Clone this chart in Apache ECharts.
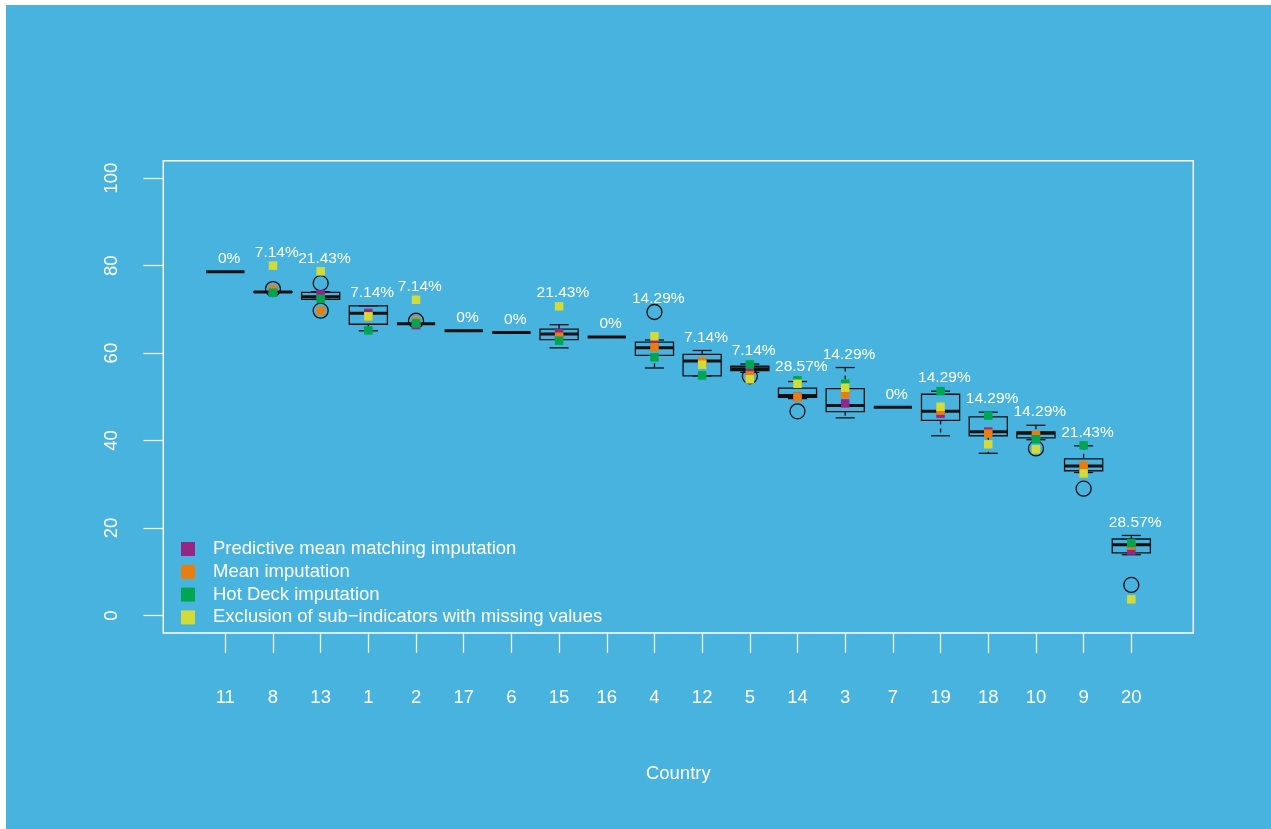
<!DOCTYPE html>
<html>
<head>
<meta charset="utf-8">
<title>Country scores by imputation method</title>
<script src="https://cdn.jsdelivr.net/npm/echarts@6/dist/echarts.min.js"></script>
<style>
  html, body { margin: 0; padding: 0; background: #ffffff; }
  #chart { position: absolute; left: 6px; top: 5px; width: 1265px; height: 824px; background: #48b3de; }
</style>
</head>
<body>
<div id="chart"></div>
<script>
// Countries in plotting order (sorted by score)
const countries = ['11', '8', '13', '1', '2', '17', '6', '15', '16', '4', '12', '5', '14', '3', '7', '19', '18', '10', '9', '20'];
// Share of sub-indicators with missing values, per country
const missingShare = ['0%', '7.14%', '21.43%', '7.14%', '7.14%', '0%', '0%', '21.43%', '0%', '14.29%',
  '7.14%', '7.14%', '28.57%', '14.29%', '0%', '14.29%', '14.29%', '14.29%', '21.43%', '28.57%'];

// Box-and-whisker statistics per country
const boxLow    = [78.6, 73.9, 72.3,  65.1, 66.7, 65.1, 64.7, 61.2,  63.7, 56.6, 54.8, 55.6, 49.6, 45.2, 47.6, 41.1, 37.1, 40.2,  32.7, 13.9];
const boxQ1     = [78.6, 73.9, 72.3,  66.6, 66.7, 65.1, 64.7, 63.1,  63.7, 59.5, 54.8, 56.0, 49.9, 46.6, 47.6, 44.6, 41.1, 40.6,  33.1, 14.3];
const boxMedian = [78.6, 74.0, 72.9,  69.1, 66.7, 65.1, 64.7, 64.35, 63.7, 61.2, 58.2, 56.4, 50.3, 48.0, 47.6, 46.7, 42.0, 41.65, 34.2, 16.2];
const boxQ3     = [78.6, 74.0, 73.9,  70.8, 66.7, 65.1, 64.7, 65.5,  63.7, 62.5, 59.7, 57.0, 52.0, 51.9, 47.6, 50.6, 45.4, 42.0,  35.8, 17.5];
const boxHigh   = [78.6, 74.0, 74.05, 70.8, 66.7, 65.1, 64.7, 66.5,  63.7, 63.0, 60.6, 57.5, 53.5, 56.7, 47.6, 51.3, 46.5, 43.5,  38.8, 18.3];
// Outlying values beyond the whiskers
const outliers = [[], [74.65], [76.0, 69.7], [], [67.4], [], [], [], [], [69.4],
  [], [54.7], [46.7], [], [], [], [], [38.2], [29.0], [7.0]];

// Country scores under each treatment of missing data
const pmmImputation  = [null, 74.2, 73.45, 69.2, 66.4, null, null, 64.6,  null, 62.6,  57.8,  55.9, 50.0, 48.5, null, 46.15, 42.05, 41.0, 33.4,  14.85];
const meanImputation = [null, 74.6, 69.7,  68.4, 67.3, null, null, 63.75, null, 61.35, 58.1,  54.9, 50.0, 50.7, null, 46.85, 41.6,  41.3, 34.35, 16.0];
const hotDeck        = [null, 73.8, 72.4,  65.2, 66.8, null, null, 62.85, null, 59.05, 54.9,  57.4, 53.8, 53.0, null, 51.3,  45.7,  40.3, 38.9,  16.55];
const exclusion      = [null, 80.0, 78.7,  68.4, 72.2, null, null, 70.7,  null, 63.85, 57.35, 54.0, 53.0, 52.1, null, 47.75, 39.15, 38.0, 32.5,  3.7];

const yTicks = [0, 20, 40, 60, 80, 100];

const methods = [
  { name: 'Predictive mean matching imputation', values: pmmImputation, color: '#962684' },
  { name: 'Mean imputation', values: meanImputation, color: '#e97e0e' },
  { name: 'Hot Deck imputation', values: hotDeck, color: '#00a651' },
  { name: 'Exclusion of sub\u2212indicators with missing values', values: exclusion, color: '#d3db39' }
];

const FONT = '"Liberation Sans", Arial, Helvetica, sans-serif';
const INK = '#111111';
const BOX_WIDTH = 0.8;      // in category units
const LABEL_LIFT = 3.0;     // percentage label sits this far above the highest mark
const LABEL_SHIFT = 0.08;   // small horizontal nudge of the percentage label

const positions = countries.map((_, i) => i + 1);

const boxData = positions.map((x, i) => [x, boxLow[i], boxQ1[i], boxMedian[i], boxQ3[i], boxHigh[i]]);

const outlierData = [];
outliers.forEach((list, i) => list.forEach(v => outlierData.push([positions[i], v])));

// Percentage labels go above the highest value drawn for each country
const labelData = positions.map((x, i) => {
  const all = [boxHigh[i], ...outliers[i]];
  methods.forEach(m => { if (m.values[i] != null) all.push(m.values[i]); });
  return [x + LABEL_SHIFT, Math.max(...all) + LABEL_LIFT];
});

function renderBox(params, api) {
  const x = api.value(0);
  const lo = api.value(1), q1 = api.value(2), md = api.value(3), q3 = api.value(4), hi = api.value(5);
  const half = api.size([BOX_WIDTH, 0])[0] / 2;
  const cap = half / 2;
  const px = api.coord([x, md])[0];
  const y = v => api.coord([x, v])[1];
  const thin = { stroke: INK, lineWidth: 1.3, fill: null };
  const dashed = { stroke: INK, lineWidth: 1.3, fill: null, lineDash: [4, 4] };
  return {
    type: 'group',
    children: [
      { type: 'line', shape: { x1: px, y1: y(hi), x2: px, y2: y(q3) }, style: dashed },
      { type: 'line', shape: { x1: px, y1: y(q1), x2: px, y2: y(lo) }, style: dashed },
      { type: 'line', shape: { x1: px - cap, y1: y(hi), x2: px + cap, y2: y(hi) }, style: thin },
      { type: 'line', shape: { x1: px - cap, y1: y(lo), x2: px + cap, y2: y(lo) }, style: thin },
      { type: 'rect', shape: { x: px - half, y: y(q3), width: 2 * half, height: y(q1) - y(q3) }, style: thin },
      { type: 'line', shape: { x1: px - half, y1: y(md), x2: px + half, y2: y(md) }, style: { stroke: INK, lineWidth: 3 } }
    ]
  };
}

function renderLabel(params, api) {
  const p = api.coord([api.value(0), api.value(1)]);
  return {
    type: 'text',
    x: p[0],
    y: p[1],
    style: {
      text: missingShare[params.dataIndex],
      fill: '#ffffff',
      font: '15.5px ' + FONT,
      textAlign: 'center',
      textVerticalAlign: 'middle'
    }
  };
}

const chart = echarts.init(document.getElementById('chart'), null, { renderer: 'canvas' });

chart.setOption({
  animation: false,
  backgroundColor: '#48b3de',
  textStyle: { fontFamily: FONT },
  grid: {
    left: 157.3, right: 77.7, top: 155.7, bottom: 196,
    show: true, borderColor: '#ffffff', borderWidth: 1.5, backgroundColor: 'transparent'
  },
  legend: {
    orient: 'vertical',
    left: 175, top: 534.5,
    padding: 0,
    icon: 'rect',
    itemWidth: 14, itemHeight: 14, itemGap: 3.8,
    selectedMode: false,
    data: methods.map(m => m.name),
    textStyle: { color: '#ffffff', fontSize: 18.5, fontFamily: FONT, lineHeight: 14, padding: [0, 0, 0, 13] }
  },
  xAxis: {
    type: 'value',
    min: -0.3, max: 21.3,
    name: 'Country',
    nameLocation: 'middle',
    nameGap: 131,
    nameTextStyle: { color: '#ffffff', fontSize: 18.5, fontFamily: FONT },
    axisLine: { show: false, onZero: false },
    splitLine: { show: false },
    axisTick: { show: true, inside: false, length: 20, customValues: positions, lineStyle: { color: '#f0f0f0', width: 1.3 } },
    axisLabel: {
      show: true, customValues: positions, margin: 55,
      color: '#ffffff', fontSize: 18.5, fontFamily: FONT,
      formatter: v => countries[Math.round(v) - 1] || ''
    }
  },
  yAxis: {
    type: 'value',
    min: -4, max: 104,
    axisLine: { show: false, onZero: false },
    splitLine: { show: false },
    axisTick: { show: true, inside: false, length: 20, customValues: yTicks, lineStyle: { color: '#f0f0f0', width: 1.3 } },
    axisLabel: {
      show: true, customValues: yTicks, rotate: 90, margin: 42,
      color: '#ffffff', fontSize: 18.5, fontFamily: FONT
    }
  },
  series: [
    {
      name: 'boxes', type: 'custom', renderItem: renderBox, data: boxData,
      encode: { x: 0, y: [1, 2, 3, 4, 5] }, silent: true, z: 2
    },
    {
      name: 'outliers', type: 'scatter', data: outlierData, symbol: 'circle', symbolSize: 15,
      itemStyle: { color: 'rgba(0,0,0,0)', borderColor: INK, borderWidth: 1.3, opacity: 1 }, silent: true, z: 3
    },
    ...methods.map(m => ({
      name: m.name, type: 'scatter', symbol: 'rect', symbolSize: 8.5,
      itemStyle: { color: m.color, opacity: 1 },
      data: positions.map((x, i) => [x, m.values[i]]).filter(d => d[1] != null),
      silent: true, z: 4
    })),
    {
      name: 'shares', type: 'custom', renderItem: renderLabel, data: labelData,
      encode: { x: 0, y: 1 }, silent: true, z: 5
    }
  ]
});
</script>
</body>
</html>
